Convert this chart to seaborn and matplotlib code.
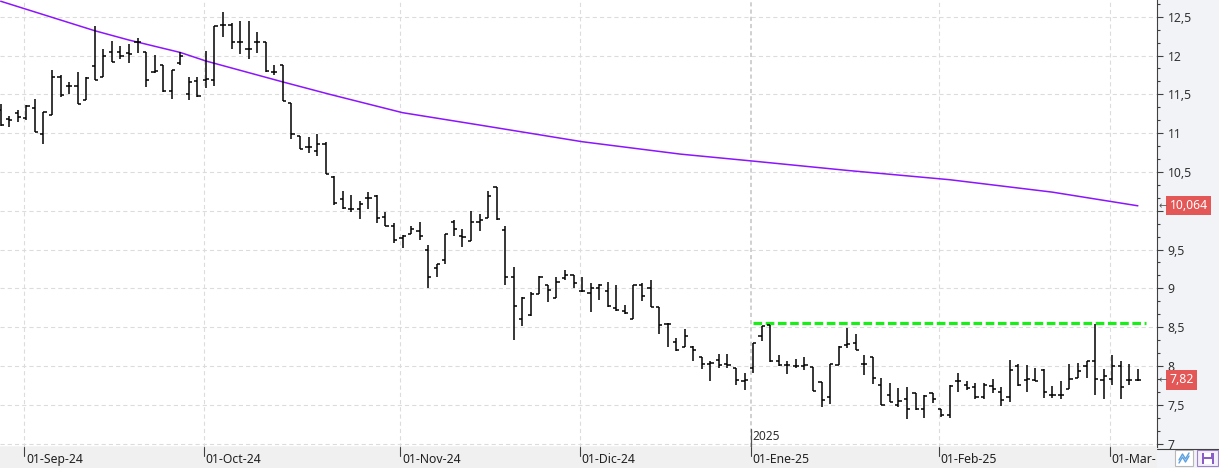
import numpy as np
import matplotlib
matplotlib.use("Agg")
import matplotlib.pyplot as plt
import matplotlib.ticker as mticker
from matplotlib.patches import Rectangle
from matplotlib.lines import Line2D
from matplotlib.transforms import blended_transform_factory
import seaborn as sns

# ---------------- data ----------------
opens = [11.30, 11.18, 11.26, 11.19, 11.32, 10.99, 11.24, 11.73, 11.61, 11.61,
         11.43, 11.86, 11.73, 12.04, 12.05, 12.03, 12.17, 12.05, 11.79, 11.88,
         11.54, 11.91, 11.50, 11.67, 11.68, 11.69, 12.40, 12.40, 12.18, 12.09,
         12.17, 12.17, 11.79, 11.88, 11.39, 10.96, 10.82, 10.77, 10.86, 10.43,
         10.15, 10.02, 10.02, 10.17, 10.19, 9.92, 9.80, 9.65, 9.70, 9.74,
         9.49, 9.26, 9.37, 9.85, 9.68, 9.61, 9.85, 9.91, 10.30, 9.75,
         9.14, 8.61, 8.66, 8.93, 9.04, 8.87, 9.13, 9.17, 8.97, 8.94,
         9.00, 8.97, 8.75, 8.71, 8.60, 9.04, 9.00, 8.76, 8.54, 8.31,
         8.24, 8.25, 8.11, 8.03, 8.08, 8.02, 7.98, 7.81, 7.97, 8.39,
         8.53, 8.06, 8.01, 8.00, 8.00, 7.99, 7.79, 7.60, 8.01, 8.27,
         8.29, 8.03, 8.11, 7.75, 7.63, 7.50, 7.58, 7.65, 7.45, 7.65,
         7.44, 7.37, 7.81, 7.76, 7.73, 7.60, 7.74, 7.67, 7.60, 8.00,
         7.82, 7.82, 7.95, 7.63, 7.63, 7.70, 7.85, 8.00, 8.06, 7.82,
         7.83, 8.00, 7.82, 7.82]
highs = [11.38, 11.22, 11.30, 11.36, 11.44, 11.27, 11.81, 11.75, 11.66, 11.79,
         11.72, 12.38, 12.09, 12.19, 12.12, 12.15, 12.23, 12.05, 12.01, 11.88,
         11.82, 12.04, 11.72, 11.73, 12.06, 12.38, 12.56, 12.42, 12.44, 12.45,
         12.31, 12.18, 11.88, 11.88, 11.39, 10.96, 10.95, 10.99, 10.89, 10.45,
         10.25, 10.20, 10.12, 10.24, 10.20, 9.99, 9.84, 9.69, 9.81, 9.86,
         9.56, 9.31, 9.70, 9.88, 9.77, 10.00, 9.96, 10.26, 10.30, 9.81,
         9.27, 8.89, 8.95, 9.16, 9.04, 9.14, 9.24, 9.17, 9.15, 9.07,
         9.05, 9.08, 9.04, 8.79, 9.04, 9.07, 9.11, 8.76, 8.56, 8.36,
         8.48, 8.26, 8.12, 8.06, 8.15, 8.16, 7.98, 7.91, 8.29, 8.52,
         8.53, 8.14, 8.06, 8.09, 8.11, 7.99, 7.79, 8.02, 8.26, 8.49,
         8.41, 8.14, 8.11, 7.85, 7.78, 7.71, 7.73, 7.65, 7.63, 7.65,
         7.45, 7.75, 7.91, 7.81, 7.78, 7.78, 7.83, 7.73, 8.08, 8.03,
         8.01, 7.97, 7.96, 7.74, 7.80, 8.03, 8.04, 8.06, 8.54, 7.96,
         8.14, 8.06, 8.02, 7.96]
lows = [11.09, 11.08, 11.14, 11.17, 11.01, 10.86, 11.24, 11.47, 11.50, 11.38,
        11.43, 11.69, 11.73, 11.92, 11.96, 11.91, 12.03, 11.60, 11.78, 11.53,
        11.44, 11.88, 11.43, 11.47, 11.58, 11.61, 12.24, 12.09, 12.02, 11.96,
        12.03, 11.79, 11.75, 11.41, 10.93, 10.79, 10.75, 10.71, 10.48, 10.07,
        10.02, 9.99, 9.89, 10.02, 9.84, 9.80, 9.59, 9.52, 9.70, 9.62,
        9.01, 9.15, 9.31, 9.68, 9.53, 9.61, 9.74, 9.91, 9.88, 9.04,
        8.34, 8.51, 8.65, 8.93, 8.82, 8.87, 9.11, 9.01, 8.95, 8.70,
        8.85, 8.76, 8.71, 8.67, 8.60, 8.84, 8.76, 8.41, 8.24, 8.19,
        8.24, 8.07, 7.96, 7.81, 7.98, 7.98, 7.75, 7.69, 7.91, 8.32,
        8.05, 8.00, 7.89, 7.98, 7.95, 7.68, 7.47, 7.51, 8.01, 8.23,
        8.21, 7.88, 7.77, 7.50, 7.53, 7.47, 7.32, 7.43, 7.33, 7.52,
        7.34, 7.33, 7.66, 7.69, 7.57, 7.58, 7.65, 7.48, 7.54, 7.74,
        7.66, 7.80, 7.59, 7.59, 7.58, 7.70, 7.84, 7.85, 7.63, 7.57,
        7.76, 7.57, 7.75, 7.80]
closes = [11.11, 11.17, 11.21, 11.35, 11.01, 11.27, 11.73, 11.49, 11.61, 11.38,
          11.71, 11.69, 11.99, 11.92, 11.99, 12.02, 12.17, 11.69, 11.80, 11.54,
          11.82, 12.00, 11.66, 11.48, 11.70, 12.38, 12.40, 12.17, 12.18, 12.09,
          12.17, 11.80, 11.79, 11.41, 10.99, 10.80, 10.82, 10.86, 10.48, 10.10,
          10.04, 10.02, 10.09, 10.17, 9.91, 9.80, 9.62, 9.67, 9.76, 9.68,
          9.14, 9.31, 9.70, 9.77, 9.66, 9.86, 9.88, 10.19, 9.89, 9.15,
          8.77, 8.88, 8.93, 9.14, 8.98, 9.08, 9.17, 9.07, 8.96, 9.00,
          9.04, 8.77, 8.72, 8.68, 9.04, 8.90, 8.76, 8.53, 8.54, 8.21,
          8.39, 8.20, 8.03, 8.04, 8.01, 8.01, 7.82, 7.82, 8.29, 8.51,
          8.06, 8.01, 8.01, 8.00, 8.01, 7.68, 7.56, 8.02, 8.25, 8.28,
          8.21, 8.03, 7.84, 7.50, 7.54, 7.55, 7.45, 7.44, 7.61, 7.57,
          7.37, 7.74, 7.80, 7.71, 7.60, 7.76, 7.70, 7.56, 7.95, 7.76,
          7.83, 7.81, 7.67, 7.63, 7.63, 7.83, 7.93, 8.06, 7.83, 7.87,
          8.00, 7.73, 7.82, 7.82]

# long moving average (purple), read at sample bars
ma_bar = [0, 11, 15, 21, 24, 27, 33, 38.5, 47, 56, 68, 79.5, 88, 99, 111, 123, 133]
ma_val = [12.70, 12.32, 12.20, 12.04, 11.93, 11.84, 11.66, 11.50, 11.264, 11.105,
          10.89, 10.73, 10.64, 10.52, 10.40, 10.24, 10.064]

# green dashed resistance line
res_level = 8.56
res_bars = [88, 134]

month_first_bar = [3, 24, 47, 68, 88, 110, 130]
month_labels = ["01-Sep-24", "01-Oct-24", "01-Nov-24", "01-Dic-24",
                "01-Ene-25", "01-Feb-25", "01-Mar-"]
year_label = "2025"
year_bar = 88

y_major = [7, 7.5, 8, 8.5, 9, 9.5, 10, 10.5, 11, 11.5, 12, 12.5]
last_ma_text = "10,064"
last_close = 7.82
last_close_text = "7,82"

# ---------------- styling ----------------
sns.set_theme(style="white")
plt.rcParams["font.family"] = ["Noto Sans", "DejaVu Sans"]
plt.rcParams["lines.scale_dashes"] = False

W, H = 1219, 468
fig = plt.figure(figsize=(W / 100, H / 100), dpi=100, facecolor="#f1f3f6")

AX_R = 1157  # px
AX_B = 447   # px from top
ax = fig.add_axes([0, (H - AX_B) / H, AX_R / W, AX_B / H])
ax.set_facecolor("white")

PX_X = 8.55   # px per bar
PX_Y = 77.6   # px per unit
x_left = -0.7 / PX_X
x_right = x_left + AX_R / PX_X
y_top = 12.716
y_bot = y_top - AX_B / PX_Y
ax.set_xlim(x_left, x_right)
ax.set_ylim(y_bot, y_top)

# grid
grid_dash = (0, (3.0, 2.2))
for v in y_major:
    ax.axhline(v, color="#dcdcdc", lw=0.8, ls=grid_dash, zorder=0)
tick_off = -0.27
for b in month_first_bar:
    if b == year_bar:
        ax.axvline(b + tick_off, color="#c4c4c4", lw=1.1, ls=grid_dash, zorder=0)
    else:
        ax.axvline(b + tick_off, color="#dcdcdc", lw=0.8, ls=grid_dash, zorder=0)

# moving average
sns.lineplot(x=ma_bar, y=ma_val, ax=ax, color="#8c14ff", lw=1.1, zorder=3)

# resistance line
sns.lineplot(x=res_bars, y=[res_level, res_level], ax=ax, color="#19ee19",
             lw=2.3, linestyle=(0, (6.2, 2.6)), zorder=3)

# OHLC bars
idx = np.arange(len(opens))
tl = 0.37
ax.vlines(idx, lows, highs, color="black", lw=1.1, zorder=4)
ax.hlines(opens, idx - tl, idx, color="black", lw=1.1, zorder=4)
ax.hlines(closes, idx, idx + tl, color="black", lw=1.1, zorder=4)

# year marker
ax.plot([year_bar + tick_off] * 2, [y_bot, y_bot + 18 / PX_Y], color="#555555", lw=0.9, zorder=5)
ax.text(year_bar + tick_off + 0.2, y_top - 437 / PX_Y, year_label, fontsize=8.6,
        color="#303030", va="center", ha="left", zorder=5)

# axes / spines
for s in ["left", "top"]:
    ax.spines[s].set_visible(False)
ax.spines["right"].set_color("#404040")
ax.spines["right"].set_linewidth(0.8)
ax.spines["bottom"].set_color("#404040")
ax.spines["bottom"].set_linewidth(0.8)
ax.set_xticks([])
ax.yaxis.tick_right()
ax.set_yticks(y_major)
ax.yaxis.set_minor_locator(mticker.MultipleLocator(0.5 / 3))
hidden = {10.0}  # covered by the value box in the reference


def fmt(v, p):
    if round(v, 3) in hidden:
        return ""
    return f"{v:g}".replace(".", ",")


ax.yaxis.set_major_formatter(mticker.FuncFormatter(fmt))
ax.tick_params(axis="y", which="major", length=4.3, width=0.8, color="#404040",
               pad=3.4, labelsize=8.8, labelcolor="#303030", right=True, left=False)
ax.tick_params(axis="y", which="minor", length=2.2, width=0.8, color="#404040",
               right=True, left=False)
ax.set_xlabel("")
ax.set_ylabel("")
if ax.get_legend():
    ax.get_legend().remove()

# value labels on the right
tr = blended_transform_factory(fig.transFigure, ax.transData)
for val, txt in [(ma_val[-1], last_ma_text), (last_close, last_close_text)]:
    ax.text(1169.5 / W, val, txt, transform=tr, fontsize=8.8, color="white",
            va="center", ha="left", clip_on=False, zorder=6,
            bbox=dict(boxstyle="square,pad=0.26", fc="#e35757", ec="none"))
    ax.text(1158.5 / W, val, "←", transform=tr, fontsize=7, color="#555555",
            va="center", ha="left", clip_on=False, zorder=6, family="DejaVu Sans")

# bottom date strip
axb = fig.add_axes([0, 0, AX_R / W, (H - AX_B) / H])
axb.set_facecolor("#f0f0f0")
axb.set_xlim(x_left, x_right)
axb.set_ylim(0, 1)
axb.axis("off")
axb.add_patch(Rectangle((0, 0), 1, 1, transform=axb.transAxes, fc="#f0f0f0", ec="none", zorder=0))
for b, lab in zip(month_first_bar, month_labels):
    xp = b + tick_off
    axb.plot([xp, xp], [1, 0.55], color="#404040", lw=0.8, zorder=2)
    axb.text(xp + 0.22, 0.42, lab, fontsize=8.8, color="#202020", va="center", ha="left", zorder=2)

# bottom border continues under the right panel
fig.add_artist(Line2D([AX_R / W, 1], [(H - AX_B - 1.5) / H] * 2, transform=fig.transFigure,
                      color="#404040", lw=0.8))


# small buttons bottom-right
def fig_rect(x0, y0, w, h, **kw):
    fig.add_artist(Rectangle((x0 / W, (H - y0 - h) / H), w / W, h / H,
                             transform=fig.transFigure, **kw))


fig_rect(1175, 450, 18, 16, fc="white", ec="#b8b8b8", lw=0.8)
for dy in (0, 3):
    fig.add_artist(Line2D([1179 / W, 1182.5 / W, 1185.5 / W, 1189 / W],
                          [(H - 460 - dy) / H, (H - 454 - dy) / H, (H - 459 - dy) / H, (H - 453 - dy) / H],
                          transform=fig.transFigure, color="#5aa0e0", lw=1.0))
fig_rect(1197, 450, 21, 16, fc="#f4f0fa", ec="#a080c8", lw=0.8)
fig_rect(1201.5, 452.5, 12, 11.5, fc="#8a5cc8", ec="none")
fig_rect(1204, 452.5, 7, 4, fc="white", ec="none")
fig_rect(1203.5, 459, 8, 4.5, fc="white", ec="none")

fig.savefig("out.png", dpi=100, facecolor=fig.get_facecolor())
